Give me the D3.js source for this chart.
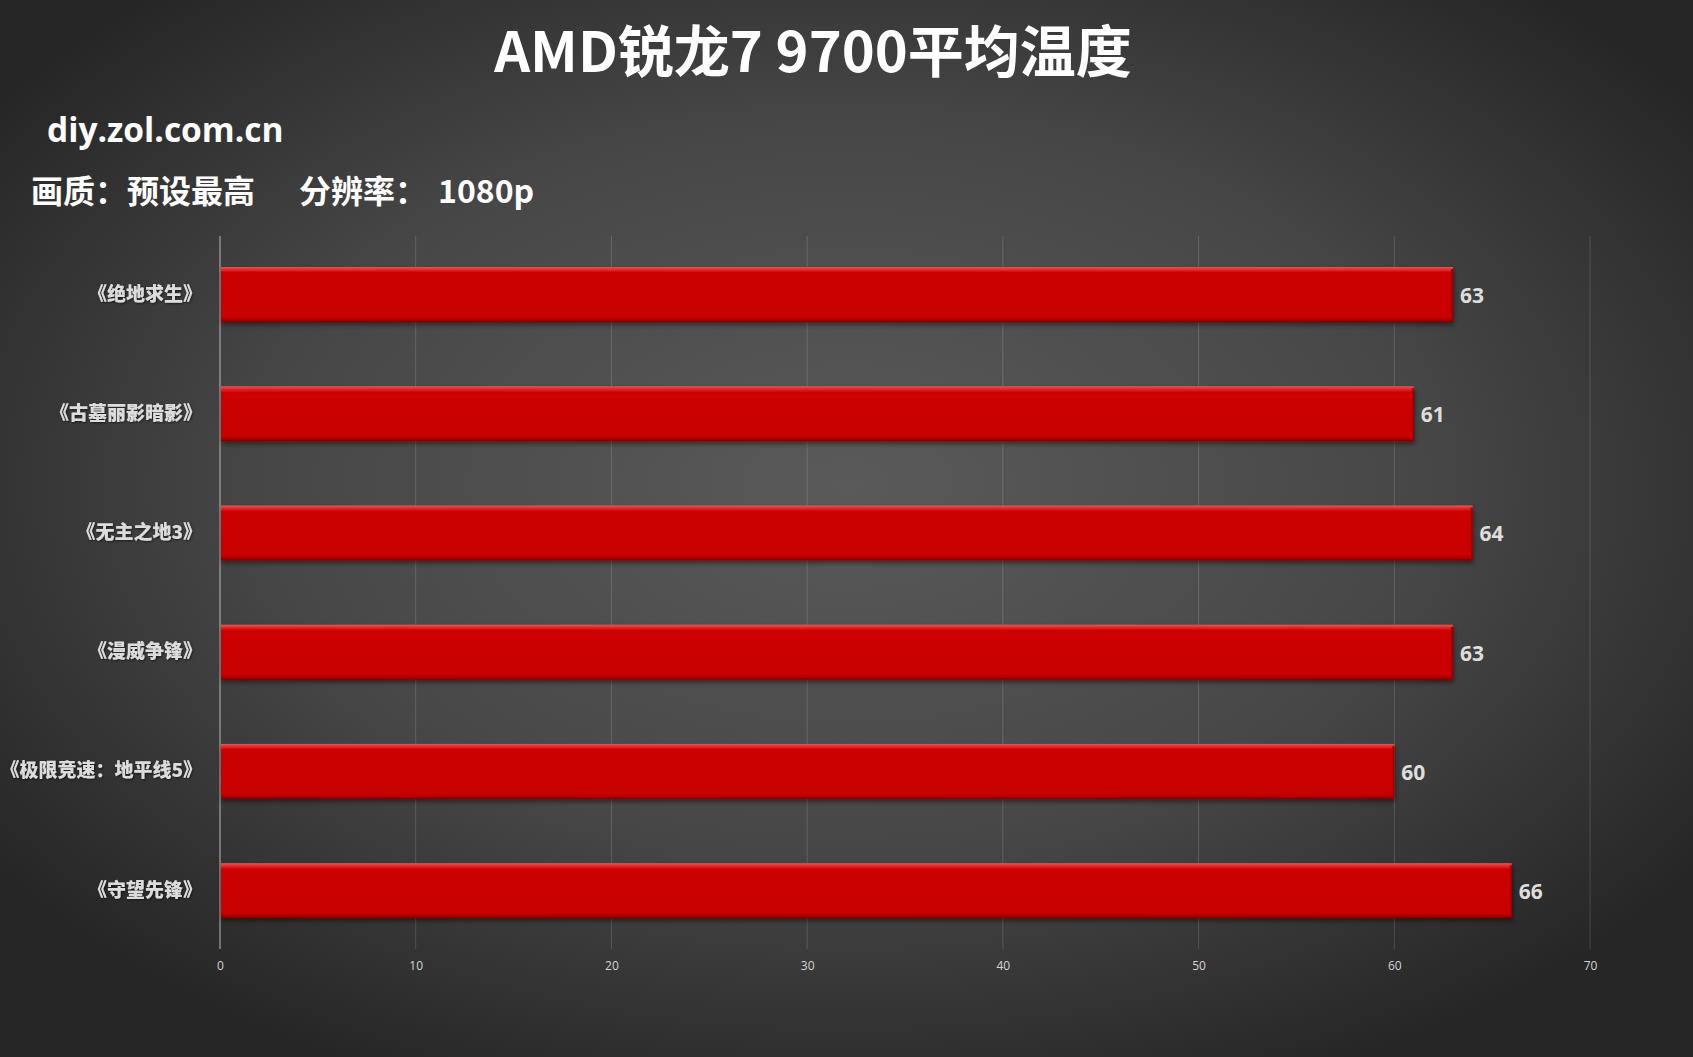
<!DOCTYPE html>
<html>
<head>
<meta charset="utf-8">
<script src="https://cdn.jsdelivr.net/npm/d3@7"></script>
<style>
  html, body { margin: 0; padding: 0; background: #333; overflow: hidden; }
  svg { display: block; }
</style>
</head>
<body>
<svg id="chart" width="1693" height="1057"></svg>
<script>
// ---- Data ----
const title = "AMD锐龙7 9700平均温度";
const siteText = "diy.zol.com.cn";
const subtitleParts = ["画质：预设最高", "分辨率：", "1080p"];
const categories = ["《绝地求生》", "《古墓丽影暗影》", "《无主之地3》", "《漫威争锋》", "《极限竞速：地平线5》", "《守望先锋》"];
const values = [63, 61, 64, 63, 60, 66];
const tickValues = [0, 10, 20, 30, 40, 50, 60, 70];

// ---- Layout ----
const W = 1693, H = 1057;
const plot = { left: 220, right: 1590, top: 236, bottom: 949 };
const cjk = "'Noto Sans CJK SC', 'Noto Sans', sans-serif";
const latin = "'Open Sans', 'Noto Sans', sans-serif";

const svg = d3.select("#chart");
const defs = svg.append("defs");

// background radial gradient
const bg = defs.append("radialGradient").attr("id", "bg")
  .attr("cx", "50%").attr("cy", "46%").attr("r", "62%");
bg.append("stop").attr("offset", "0%").attr("stop-color", "#5a5a5a");
bg.append("stop").attr("offset", "55%").attr("stop-color", "#474747");
bg.append("stop").attr("offset", "100%").attr("stop-color", "#262626");

// bar gradient (vertical)
const bar = defs.append("linearGradient").attr("id", "barGrad")
  .attr("x1", 0).attr("y1", 0).attr("x2", 0).attr("y2", 1);
[["0%", "#ff4a4a"], ["5%", "#f22525"], ["10%", "#cc0505"], ["90%", "#c90404"], ["96%", "#a80000"], ["100%", "#7a0000"]]
  .forEach(([o, c]) => bar.append("stop").attr("offset", o).attr("stop-color", c));

// bar end gradient (right bevel)
const endG = defs.append("linearGradient").attr("id", "endGrad")
  .attr("x1", 0).attr("y1", 0).attr("x2", 1).attr("y2", 0);
endG.append("stop").attr("offset", "0%").attr("stop-color", "#c00000");
endG.append("stop").attr("offset", "100%").attr("stop-color", "#8a0000");

const shadow = defs.append("filter").attr("id", "shadow")
  .attr("x", "-5%").attr("y", "-20%").attr("width", "110%").attr("height", "150%");
shadow.append("feDropShadow").attr("dx", 1).attr("dy", 3).attr("stdDeviation", 2.5)
  .attr("flood-color", "#000").attr("flood-opacity", 0.45);

const tshadow = defs.append("filter").attr("id", "tshadow");
tshadow.append("feDropShadow").attr("dx", 1).attr("dy", 1).attr("stdDeviation", 0.8)
  .attr("flood-color", "#000").attr("flood-opacity", 0.55);

svg.append("rect").attr("width", W).attr("height", H).attr("fill", "url(#bg)");

// ---- Scales ----
const x = d3.scaleLinear().domain([0, 70]).range([plot.left, plot.right]);
const y = d3.scaleBand().domain(categories).range([plot.top, plot.bottom])
  .paddingInner(0.54).paddingOuter(0.26);

// ---- Gridlines ----
svg.append("g").selectAll("line").data(tickValues.filter(d => d > 0)).join("line")
  .attr("x1", d => x(d)).attr("x2", d => x(d))
  .attr("y1", plot.top).attr("y2", plot.bottom)
  .attr("stroke", "rgba(255,255,255,0.15)").attr("stroke-width", 1);

// axis line at 0
svg.append("line")
  .attr("x1", x(0)).attr("x2", x(0)).attr("y1", plot.top).attr("y2", plot.bottom)
  .attr("stroke", "#b8b8b8").attr("stroke-width", 1);

// ---- X axis tick labels ----
const xAxis = d3.axisBottom(x).tickValues(tickValues).tickSize(0).tickPadding(0);
const gx = svg.append("g").attr("transform", `translate(0,${plot.bottom + 10})`).call(xAxis);
gx.select(".domain").remove();
gx.selectAll("text")
  .attr("fill", "#d4d4d4").attr("font-size", 12).attr("font-family", latin)
  .attr("dy", "0.9em");

// ---- Bars ----
const data = categories.map((c, i) => ({ c, v: values[i] }));
const bars = svg.append("g").selectAll("g").data(data).join("g");
bars.append("rect")
  .attr("x", x(0) + 1).attr("y", d => y(d.c))
  .attr("width", d => x(d.v) - x(0) - 1).attr("height", y.bandwidth())
  .attr("fill", "url(#barGrad)").attr("filter", "url(#shadow)");
// right edge bevel
bars.append("rect")
  .attr("x", d => x(d.v) - 2).attr("y", d => y(d.c) + 2)
  .attr("width", 2).attr("height", y.bandwidth() - 3)
  .attr("fill", "url(#endGrad)");

// ---- Value labels ----
bars.append("text")
  .attr("x", d => x(d.v) + 7).attr("y", d => y(d.c) + y.bandwidth() / 2)
  .attr("dy", "0.4em")
  .attr("fill", "#dedede").attr("font-size", 21).attr("font-weight", 700)
  .attr("font-family", latin)
  .text(d => d.v);

// ---- Category labels ----
const yAxis = d3.axisLeft(y).tickSize(0).tickPadding(0);
const gy = svg.append("g").attr("transform", `translate(${plot.left - 18},0)`).call(yAxis);
gy.select(".domain").remove();
gy.selectAll("text")
  .attr("fill", "#dcdcdc").attr("font-size", 19).attr("font-weight", 900)
  .attr("font-family", cjk).attr("filter", "url(#tshadow)");

// ---- Titles ----
svg.append("text").attr("x", 813).attr("y", 72).attr("text-anchor", "middle")
  .attr("fill", "#ffffff").attr("font-size", 56).attr("font-weight", 700)
  .attr("font-family", cjk).text(title);

svg.append("text").attr("x", 47).attr("y", 142)
  .attr("fill", "#ffffff").attr("font-size", 33.5).attr("font-weight", 700)
  .attr("font-family", latin).text(siteText);

const subX = [31, 299, 438];
svg.append("g").selectAll("text").data(subtitleParts).join("text")
  .attr("x", (d, i) => subX[i]).attr("y", 203)
  .attr("fill", "#ffffff").attr("font-size", 32).attr("font-weight", 700)
  .attr("font-family", cjk).text(d => d);
</script>
</body>
</html>
